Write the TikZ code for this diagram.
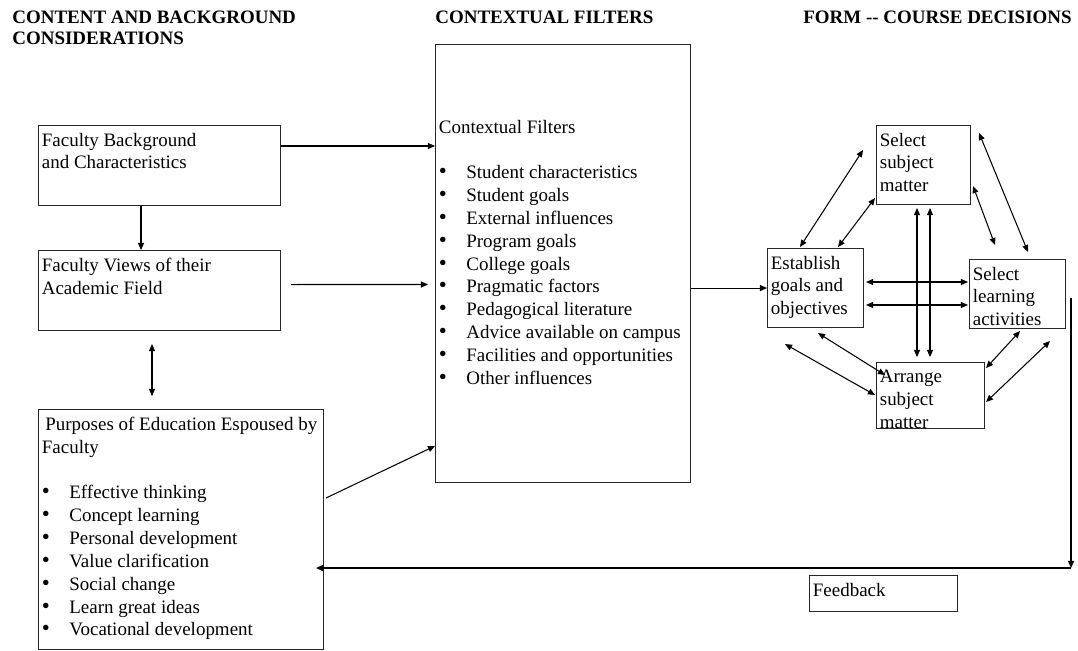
\documentclass[tikz,border=0pt]{standalone}
\usepackage{fontspec}
\setmainfont{Liberation Serif}
\usetikzlibrary{positioning, arrows.meta, calc}
\newcommand{\blt}[1]{\makebox[0.55cm][l]{\fontsize{13}{13}\selectfont\textbullet}#1}

\begin{document}
\begin{tikzpicture}[x=0.02cm, y=-0.02cm,
    box/.style={draw=black!85, line width=0.6pt, anchor=north west, inner sep=0pt},
    txt/.style={anchor=north west, align=left, inner xsep=2pt, inner ysep=4.3pt,
                font=\fontsize{10.8}{13}\selectfont},
    head/.style={anchor=north west, align=left, inner sep=0pt,
                 font=\fontsize{10.8}{11.8}\selectfont\bfseries},
    arr/.style={-{Triangle[length=4pt,width=3.4pt]}, line width=0.6pt},
    darr/.style={{Triangle[length=4pt,width=3.4pt]}-{Triangle[length=4pt,width=3.4pt]},
                 line width=0.6pt}
  ]
  \useasboundingbox (0,0) rectangle (1078,650);

  % Column headings
  \node[head] (h1) at (12,11) {CONTENT AND BACKGROUND\\CONSIDERATIONS};
  \node[head] (h2) at (435,11) {CONTEXTUAL FILTERS};
  \node[head] (h3) at (803,11) {FORM -{}- COURSE DECISIONS};

  % Content and background
  \node[box, minimum width=4.84cm, minimum height=1.6cm] (bg) at (38,125) {};
  \node[txt] (bgt) at (bg.north west) {Faculty Background\\and Characteristics};
  \node[box, minimum width=4.84cm, minimum height=1.6cm] (views) at (38,250) {};
  \node[txt] (viewst) at (views.north west) {Faculty Views of their\\Academic Field};
  \node[box, minimum width=5.7cm, minimum height=4.8cm] (purp) at (38,409) {};
  \node[txt] (purpt) at (purp.north west)
        {\hspace{2pt}Purposes of Education Espoused by\\Faculty\\[13pt]
         \blt{Effective thinking}\\
         \blt{Concept learning}\\
         \blt{Personal development}\\
         \blt{Value clarification}\\
         \blt{Social change}\\
         \blt{Learn great ideas}\\
         \blt{Vocational development}};

  % Contextual filters
  \node[box, minimum width=5.1cm, minimum height=8.76cm] (ctx) at (435,44) {};
  \node[txt] (ctxt) at ($(ctx.north west)+(0,68)$)
        {Contextual Filters\\[13pt]
         \blt{Student characteristics}\\
         \blt{Student goals}\\
         \blt{External influences}\\
         \blt{Program goals}\\
         \blt{College goals}\\
         \blt{Pragmatic factors}\\
         \blt{Pedagogical literature}\\
         \blt{Advice available on campus}\\
         \blt{Facilities and opportunities}\\
         \blt{Other influences}};

  % Course decisions
  \node[box, minimum width=1.92cm, minimum height=1.58cm] (est) at (767,248) {};
  \node[txt] (estt) at (est.north west) {Establish\\goals and\\objectives};
  \node[box, minimum width=1.88cm, minimum height=1.58cm] (sel) at (876,125) {};
  \node[txt] (selt) at (sel.north west) {Select\\subject\\matter};
  \node[box, minimum width=1.92cm, minimum height=1.38cm] (learn) at (969,259) {};
  \node[txt] (learnt) at (learn.north west) {Select\\learning\\activities};
  \node[box, minimum width=2.16cm, minimum height=1.32cm] (arrg) at (876,362) {};
  \node[txt] (arrgt) at (arrg.north west) {Arrange\\subject\\matter};
  \node[box, minimum width=2.96cm, minimum height=0.72cm] (fbk) at (809,575) {};
  \node[txt] (fbkt) at (fbk.north west) {Feedback};

  % Left column arrows
  \draw[arr] ($(bg.north east)+(0,21)$) -- ($(ctx.north west)+(0,102)$);
  \draw[arr] ($(bg.south west)+(103,0)$) -- ($(views.north west)+(103,0)$);
  \draw[arr] ($(views.east)+(10,-6)$) -- ($(ctx.west)+(-7,21)$);
  \draw[darr] ($(views.south west)+(114,13)$) -- ($(purp.north west)+(114,-13)$);
  \draw[arr] ($(purp.north east)+(2,89)$) -- ($(ctx.south west)+(0,-37)$);
  \draw[arr] (ctx.east |- est.west) -- (est.west);

  % Links between course decisions
  \draw[darr] ($(est.north west)+(33,-1)$) -- ($(sel.north west)+(-13,25)$);
  \draw[darr] ($(est.north west)+(71,-1)$) -- ($(sel.south west)+(-1,-7)$);
  \draw[darr] ($(sel.south west)+(41,3)$) -- ($(arrg.north west)+(41,-5)$);
  \draw[darr] ($(sel.south west)+(54,3)$) -- ($(arrg.north west)+(54,-5)$);
  \draw[darr] ($(sel.south east)+(2,-19)$) -- ($(learn.north west)+(26,-14)$);
  \draw[darr] ($(sel.north east)+(8,8)$) -- ($(learn.north west)+(59,-7)$);
  \draw[darr] ($(est.north east)+(2,34)$) -- ($(learn.north west)+(-1,23)$);
  \draw[darr] ($(est.north east)+(2,57)$) -- ($(learn.north west)+(-1,46)$);
  \draw[darr] ($(est.south west)+(18,16)$) -- ($(arrg.north west)+(-1,33)$);
  \draw[darr] ($(est.south west)+(51,5)$) -- ($(arrg.north west)+(9,13)$);
  \draw[darr] ($(learn.south west)+(51,2)$) -- ($(arrg.north east)+(1,6)$);
  \draw[darr] ($(learn.south west)+(81,12)$) -- ($(arrg.north east)+(1,40)$);

  % Feedback loop
  \coordinate (fbtop) at ($(learn.north east)+(5,39)$);
  \coordinate (fbturn) at ($(fbtop |- fbk.north)+(0,-7)$);
  \draw[arr, line width=0.9pt] (fbtop) -- (fbturn);
  \draw[arr, line width=0.9pt] (fbturn) -- ($(fbturn -| purp.east)+(-8,0)$);
\end{tikzpicture}
\end{document}
